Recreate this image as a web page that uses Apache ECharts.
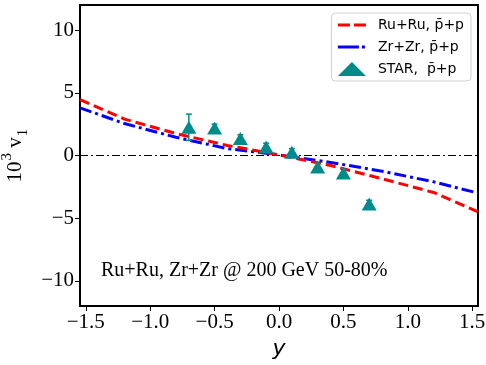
<!DOCTYPE html>
<html><head><meta charset="utf-8">
<script src="https://cdn.jsdelivr.net/npm/echarts@6/dist/echarts.min.js"></script>
<style>html,body{margin:0;padding:0;background:#fff}#c{width:486px;height:365px}</style>
</head><body><div id="c"></div>
<script>
const xTicks = [-1.5, -1.0, -0.5, 0.0, 0.5, 1.0, 1.5];
const yTicks = [-10, -5, 0, 5, 10];
const modelX = [-1.545, -1.2, -0.8, -0.4, 0.0, 0.4, 0.8, 1.2, 1.545];
const ruRu = [4.45, 2.9, 1.75, 0.8, 0.05, -0.8, -1.85, -2.95, -4.5];
const zrZr = [3.8, 2.55, 1.45, 0.55, 0.05, -0.55, -1.25, -2.1, -3.0];
const starX = [-0.7, -0.5, -0.3, -0.1, 0.1, 0.3, 0.5, 0.7];
const starY = [2.25, 2.2, 1.35, 0.68, 0.25, -0.92, -1.4, -3.87];
const starErr = [1.05, 0.3, 0.3, 0.3, 0.3, 0.3, 0.3, 0.3];

const fmt = v => (v < 0 ? '\u2212' : '') + Math.abs(v).toFixed(1);
const fmtY = v => (v < 0 ? '\u2212' : '') + Math.abs(v);
const serif = 'Liberation Serif';
const sans = 'DejaVu Sans';
const teal = '#008b8b';
const nRu = 'Ru+Ru, p\u0304+p', nZr = 'Zr+Zr, p\u0304+p', nStar = 'STAR,  p\u0304+p';

const chart = echarts.init(document.getElementById('c'));
chart.setOption({
  animation: false,
  grid: {left: 80, right: 8, top: 5, bottom: 59, outerBoundsMode: 'none', containLabel: false,
         show: true, borderColor: '#000', borderWidth: 2, backgroundColor: 'transparent'},
  xAxis: {
    type: 'value', min: -1.545, max: 1.545,
    axisLine: {show: true, onZero: false, lineStyle: {color: '#000', width: 2}},
    axisTick: {show: true, customValues: xTicks, length: 5, lineStyle: {color: '#000', width: 1}},
    axisLabel: {customValues: xTicks, formatter: fmt, fontFamily: serif, fontSize: 21, color: '#000', margin: 6},
    splitLine: {show: false},
    name: 'y', nameLocation: 'middle', nameGap: 31,
    nameTextStyle: {fontFamily: sans, fontStyle: 'italic', fontSize: 22, color: '#000'}
  },
  yAxis: {
    type: 'value', min: -12, max: 12,
    axisLine: {show: true, onZero: false, lineStyle: {color: '#000', width: 2}},
    axisTick: {show: true, customValues: yTicks, length: 5, lineStyle: {color: '#000', width: 1}},
    axisLabel: {customValues: yTicks, formatter: fmtY, fontFamily: serif, fontSize: 21, color: '#000', margin: 6},
    splitLine: {show: false},
    name: '{a|10}{s|3}{a| v}{b|1}', nameLocation: 'middle', nameGap: 44, nameRotate: 90,
    nameTextStyle: {
      rich: {
        a: {fontFamily: serif, fontSize: 21, color: '#000', lineHeight: 26, verticalAlign: 'bottom'},
        s: {fontFamily: serif, fontSize: 15, color: '#000', lineHeight: 26, verticalAlign: 'bottom', padding: [0, 0, 12, 1]},
        b: {fontFamily: serif, fontSize: 15, color: '#000', lineHeight: 26, verticalAlign: 'bottom', padding: [0, 0, -4, 1]}
      }
    }
  },
  legend: {
    right: 15, top: 13, orient: 'vertical', itemGap: 8,
    itemWidth: 28, itemHeight: 14,
    borderColor: '#d0d0d0', borderWidth: 1, borderRadius: 4, padding: [5, 7, 5, 5],
    textStyle: {fontFamily: sans, fontSize: 14, color: '#000', padding: [0, 0, 0, 7]},
    data: [
      {name: nRu, itemStyle: {opacity: 0}, lineStyle: {color: '#ff0000', width: 3, type: [12, 4]}},
      {name: nZr, itemStyle: {opacity: 0}, lineStyle: {color: '#0000ff', width: 3, type: [21, 3, 3, 3]}},
      {name: nStar, icon: 'triangle', itemStyle: {color: teal}}
    ]
  },
  graphic: [{
    type: 'text', left: 101, top: 261,
    style: {text: 'Ru+Ru, Zr+Zr @ 200 GeV 50-80%', font: '20px "Liberation Serif"', fill: '#000'}
  }],
  series: [
    {
      name: 'zero', type: 'line', data: [[-1.545, 0], [1.545, 0]], symbol: 'none', silent: true,
      lineStyle: {color: '#000', width: 1.2, type: [8, 3, 2, 3]}, z: 1
    },
    {
      name: nRu, type: 'line', data: modelX.map((x, i) => [x, ruRu[i]]),
      symbol: 'none', lineStyle: {color: '#ff0000', width: 3, type: [10, 5]}, itemStyle: {color: '#ff0000'}, z: 3
    },
    {
      name: nZr, type: 'line', data: modelX.map((x, i) => [x, zrZr[i]]),
      symbol: 'none', lineStyle: {color: '#0000ff', width: 3, type: [12, 4, 3, 4]}, itemStyle: {color: '#0000ff'}, z: 2
    },
    {
      name: nStar, type: 'custom',
      data: starX.map((x, i) => [x, starY[i] - starErr[i], starY[i] + starErr[i]]),
      renderItem: (params, api) => {
        const lo = api.coord([api.value(0), api.value(1)]);
        const hi = api.coord([api.value(0), api.value(2)]);
        const st = {stroke: teal, lineWidth: 1.5};
        return {type: 'group', children: [
          {type: 'line', shape: {x1: lo[0], y1: lo[1], x2: hi[0], y2: hi[1]}, style: st},
          {type: 'line', shape: {x1: lo[0] - 3, y1: lo[1], x2: lo[0] + 3, y2: lo[1]}, style: st},
          {type: 'line', shape: {x1: hi[0] - 3, y1: hi[1], x2: hi[0] + 3, y2: hi[1]}, style: st}
        ]};
      },
      itemStyle: {color: teal}, z: 4
    },
    {
      name: nStar, type: 'scatter', data: starX.map((x, i) => [x, starY[i]]),
      symbol: 'triangle', symbolSize: [15, 13], itemStyle: {color: teal, opacity: 1}, z: 5
    }
  ]
});
</script></body></html>
